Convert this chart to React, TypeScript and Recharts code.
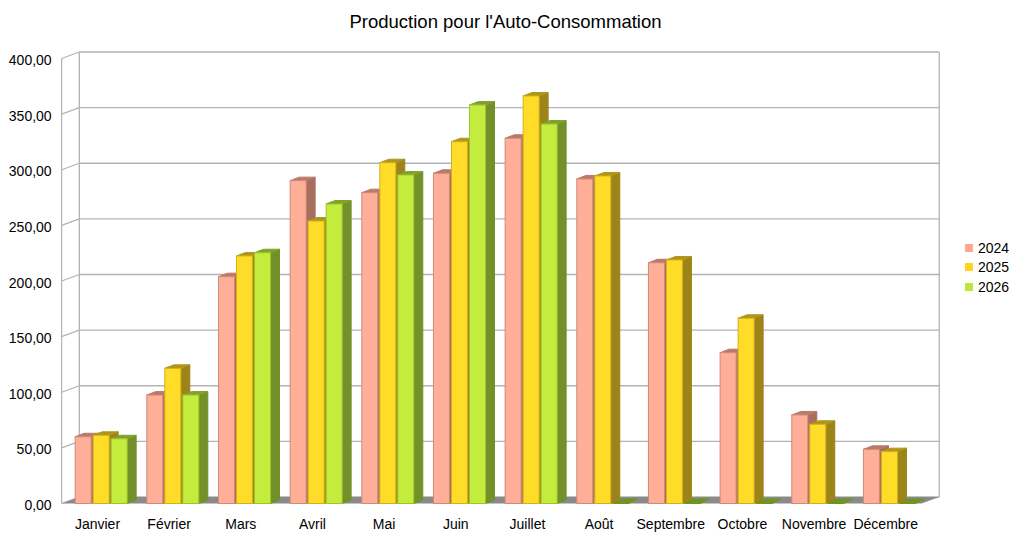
import React from 'react';
import { BarChart, Bar, XAxis, YAxis, CartesianGrid } from 'recharts';

const months = ['Janvier', 'Février', 'Mars', 'Avril', 'Mai', 'Juin', 'Juillet', 'Août', 'Septembre', 'Octobre', 'Novembre', 'Décembre'];
const values2024 = [60.0, 97.5, 203.9, 290.2, 279.4, 296.8, 328.3, 291.7, 216.4, 135.6, 79.6, 48.7];
const values2025 = [61.3, 121.5, 222.5, 253.9, 306.3, 325.2, 366.3, 294.4, 218.9, 166.5, 71.2, 46.6];
const values2026 = [58.2, 97.5, 225.4, 269.2, 295.3, 358.2, 341.1, 0, 0, 0, 0, 0];
const yTicks = [0, 50, 100, 150, 200, 250, 300, 350, 400];
const seriesNames = ['2024', '2025', '2026'];

const data = months.map((m, i) => ({
  month: m,
  '2024': values2024[i],
  '2025': values2025[i],
  '2026': values2026[i],
}));

const FONT = '"Liberation Sans", Arial, sans-serif';
const GRID = '#b3b3b3';
const DX = 17.65;
const DY = 6.5;

const palette: Record<string, { front: string; stroke: string; side: string; cap: string; legend: string }> = {
  '2024': { front: '#ffae98', stroke: '#cf8a78', side: '#a86e5e', cap: '#b97a69', legend: '#ffa995' },
  '2025': { front: '#ffdc28', stroke: '#d2b01e', side: '#9c8419', cap: '#b0951c', legend: '#ffd320' },
  '2026': { front: '#c3ec3c', stroke: '#9ec42e', side: '#73902a', cap: '#82a12c', legend: '#bde63a' },
};

const make3DBar = (key: string) => (props: any) => {
  const { x, y, width, height } = props;
  if (x == null || y == null) return <g />;
  const c = palette[key];
  const fx = x + 3.5;
  const w = width;
  const h = Math.max(0, height);
  const top = y;
  const bottom = y + h;
  const bx = 9;
  const by = h > 0 ? 3.5 : 4.5;
  const side = `M${fx + w},${top} L${fx + w + bx},${top - by} L${fx + w + bx},${bottom - by} L${fx + w},${bottom} Z`;
  const cap = `M${fx},${top} L${fx + bx},${top - by} L${fx + w + bx},${top - by} L${fx + w},${top} Z`;
  return (
    <g>
      {h > 0 && <path d={side} fill={c.side} stroke={c.side} strokeWidth={1} strokeLinejoin="round" />}
      <path d={cap} fill={h > 0 ? c.cap : '#6f9424'} stroke={h > 0 ? c.cap : '#6f9424'} strokeWidth={1} strokeLinejoin="round" />
      {h > 0 && <rect x={fx} y={top} width={w} height={h} fill={c.front} stroke={c.stroke} strokeWidth={1} />}
    </g>
  );
};

const gridRenderer = (props: any) => {
  const { x1, x2, y1, index, x, y, width, height } = props;
  const parts: React.ReactNode[] = [
    <line key="d" x1={x1} y1={y1} x2={x1 + DX} y2={y1 - DY} stroke={GRID} strokeWidth={1.2} />,
    <line key="b" x1={x1 + DX} y1={y1 - DY} x2={x2 + DX} y2={y1 - DY} stroke={GRID} strokeWidth={1.3} />,
  ];
  if (index === 0) {
    parts.push(
      <line key="vl" x1={x} y1={y} x2={x} y2={y + height} stroke={GRID} strokeWidth={1.2} />,
      <line key="vb" x1={x + DX} y1={y - DY} x2={x + DX} y2={y + height - DY} stroke={GRID} strokeWidth={1.3} />,
      <line key="vr" x1={x + width + DX} y1={y - DY} x2={x + width + DX} y2={y + height - DY} stroke={GRID} strokeWidth={1.3} />,
      <path
        key="floor"
        d={`M${x},${y + height} L${x + DX},${y + height - DY} L${x + width + DX},${y + height - DY} L${x + width},${y + height} Z`}
        fill="#8a8a8a"
      />
    );
  }
  return <g key={`grid-${index}`}>{parts}</g>;
};

const fmt = (v: number) => v.toFixed(2).replace('.', ',');

const YTick = (props: any) => {
  const { x, y, payload } = props;
  return (
    <text x={x} y={y} dy={6.5} textAnchor="end" fontSize={14} fill="#000" fontFamily={FONT}>
      {fmt(payload.value)}
    </text>
  );
};

const XTick = (props: any) => {
  const { x, y, payload } = props;
  return (
    <text x={x} y={y} dy={9.5} textAnchor="middle" fontSize={14} fill="#000" fontFamily={FONT}>
      {payload.value}
    </text>
  );
};

export default function App() {
  return (
    <div style={{ position: 'absolute', left: 0, top: 0, width: 1018, height: 537, background: '#fff' }}>
      <div
        style={{
          position: 'absolute',
          left: 0,
          top: 11,
          width: 1011,
          textAlign: 'center',
          fontFamily: FONT,
          fontSize: 18.5,
          color: '#000',
          lineHeight: '22px',
        }}
      >
        Production pour l'Auto-Consommation
      </div>
      <BarChart
        width={1018}
        height={537}
        data={data}
        margin={{ top: 58.5, right: 96.4, bottom: 3.5, left: 1.65 }}
        barSize={16}
        barGap={2}
      >
        <CartesianGrid vertical={false} horizontal={gridRenderer} />
        <XAxis
          dataKey="month"
          axisLine={false}
          tickLine={false}
          tickSize={8}
          tickMargin={8}
          height={30}
          interval={0}
          tick={<XTick />}
        />
        <YAxis
          domain={[0, 400]}
          ticks={yTicks}
          axisLine={false}
          tickLine={false}
          tickSize={8}
          tickMargin={2}
          width={60}
          interval={0}
          tick={<YTick />}
        />
        {seriesNames.map((s) => (
          <Bar key={s} dataKey={s} isAnimationActive={false} shape={make3DBar(s)} fill={palette[s].front} />
        ))}
      </BarChart>
      <div style={{ position: 'absolute', left: 965, top: 238, fontFamily: FONT, fontSize: 14, color: '#000' }}>
        {seriesNames.map((s) => (
          <div key={s} style={{ display: 'flex', alignItems: 'center', height: 19.5 }}>
            <span style={{ display: 'inline-block', width: 8, height: 8, background: palette[s].legend, marginRight: 5 }} />
            <span>{s}</span>
          </div>
        ))}
      </div>
    </div>
  );
}
